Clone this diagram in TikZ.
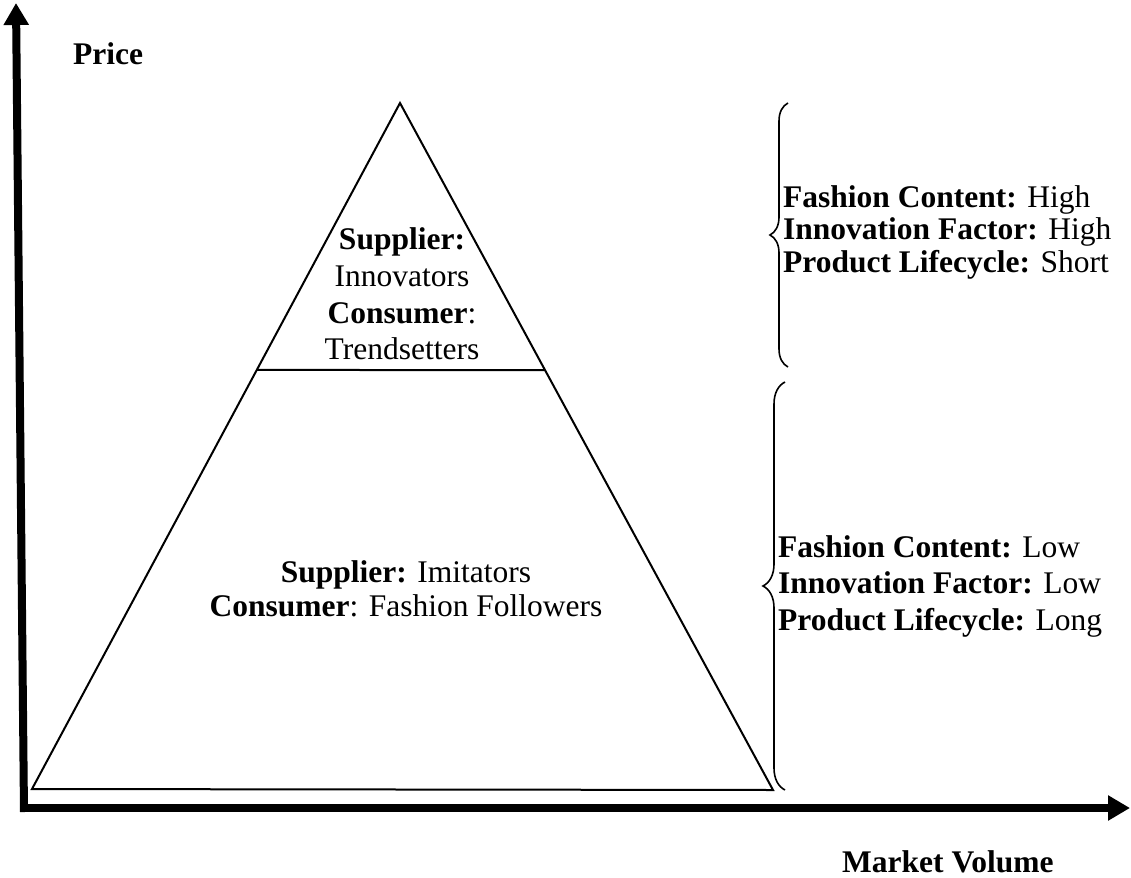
\documentclass[tikz,border=0pt]{standalone}
\usepackage{fontspec}
\setmainfont{Liberation Serif}
\usetikzlibrary{arrows.meta,decorations.pathreplacing,calc}

\begin{document}
\begin{tikzpicture}[
    x=1pt, y=-1pt,
    axis/.style={line width=8pt, -{Triangle[length=22pt, width=24pt]}},
    tier/.style={line width=2pt, line join=miter},
    curly/.style={decorate, decoration={brace, amplitude=#1}, line width=1.6pt},
    axislabel/.style={font=\fontsize{31.5}{36}\selectfont\bfseries, inner sep=0pt, anchor=base west},
    tiertext/.style={font=\fontsize{31.5}{36.7}\selectfont, align=center, inner sep=0pt},
    sidetext/.style={font=\fontsize{31.5}{36.5}\selectfont, align=left, inner sep=0pt, anchor=west}
]
    \useasboundingbox (0,0) rectangle (1131,877);

    % axes
    \coordinate (origin) at (24,812);
    \coordinate (ytip) at (16,3);
    \coordinate (xstart) at (20,808);
    \coordinate (xtip) at (1130,808);
    \draw[axis] (origin) -- (ytip);
    \draw[axis] (xstart) -- (xtip);
    \node[axislabel] (price) at (73,65) {Price};
    \node[axislabel] (volume) at (842,872) {Market Volume};

    % pyramid
    \coordinate (apex) at (400,103);
    \coordinate (baseL) at (32,789);
    \coordinate (baseR) at (773,790);
    \draw[tier] (apex) -- (baseR) -- (baseL) -- cycle;
    \draw[tier] ($(apex)!0.389!(baseL)$) -- ($(apex)!0.389!(baseR)$);

    \node[tiertext] (innovators) at (402,294) {\textbf{Supplier:}\\Innovators\\\textbf{Consumer}:\\Trendsetters};
    \node[tiertext, font=\fontsize{31.5}{34}\selectfont] (imitators) at (406,589) {\textbf{Supplier:} Imitators\\\textbf{Consumer}: Fashion Followers};

    % braces
    \coordinate (hightop) at (788,103);
    \coordinate (highbot) at (788,367);
    \coordinate (lowtop) at (785,382);
    \coordinate (lowbot) at (785,790);
    \draw[curly=18pt] (highbot) -- (hightop);
    \draw[curly=22pt] (lowbot) -- (lowtop);

    \node[sidetext, font=\fontsize{31.5}{32.5}\selectfont] (highinfo) at (783,232) {\textbf{Fashion Content:} High\\\textbf{Innovation Factor:} High\\\textbf{Product Lifecycle:} Short};
    \node[sidetext] (lowinfo) at (778,586) {\textbf{Fashion Content:} Low\\\textbf{Innovation Factor:} Low\\\textbf{Product Lifecycle:} Long};
\end{tikzpicture}
\end{document}
